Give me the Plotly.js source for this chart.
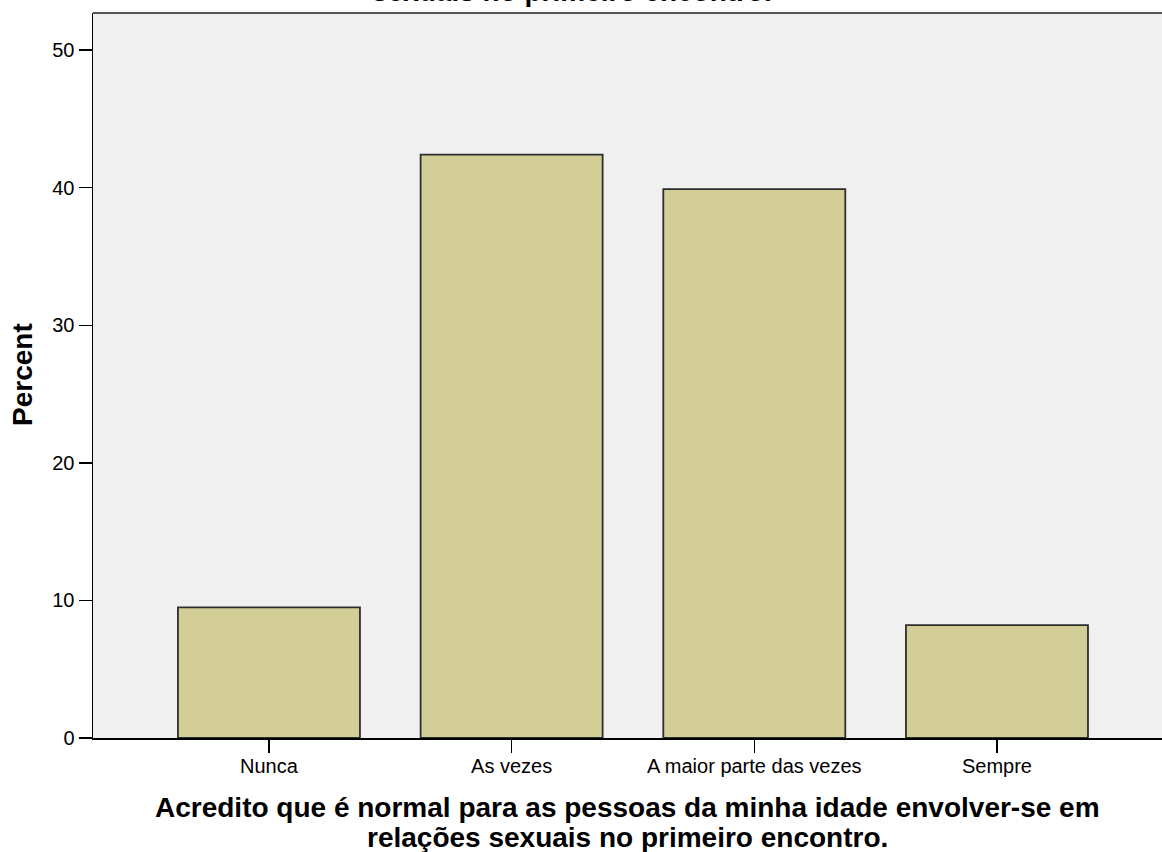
<!DOCTYPE html>
<html>
<head>
<meta charset="utf-8">
<script src="https://cdn.plot.ly/plotly-3.0.1.min.js"></script>
<style>html,body{margin:0;padding:0;background:#fff;}#chart{width:1162px;height:852px;}</style>
</head>
<body>
<div id="chart"></div>
<script>
const categories = ["Nunca", "As vezes", "A maior parte das vezes", "Sempre"];
const percentValues = [9.5, 42.4, 39.9, 8.2];
const yTickValues = [0, 10, 20, 30, 40, 50];
const xTitleLines = ["Acredito que é normal para as pessoas da minha idade envolver-se em", "relações sexuais no primeiro encontro."];
const topTitleTail = "sexuais no primeiro encontro.";
const yTitle = "Percent";

const W = 1162, H = 852;
const M = {l: 93, r: 0, t: 13, b: 114};
const plotW = W - M.l - M.r, plotH = H - M.t - M.b;
const px = x => (x - M.l) / plotW;
const py = y => (H - M.b - y) / plotH;
const FONT = '"Liberation Sans", Arial, sans-serif';

const trace = {
  type: 'bar',
  x: categories,
  y: percentValues,
  width: 0.75,
  marker: {color: '#D3CE97', line: {color: '#2e2e2e', width: 1.8}},
  hoverinfo: 'x+y'
};

const layout = {
  width: W, height: H,
  margin: M,
  paper_bgcolor: '#ffffff',
  plot_bgcolor: '#F0F0F0',
  showlegend: false,
  font: {family: FONT, color: '#000', size: 20},
  xaxis: {
    type: 'category',
    range: [-0.725, 3.68],
    showgrid: false, zeroline: false,
    showline: true, linecolor: '#000', linewidth: 1.5,
    ticks: 'outside', ticklen: 13, tickwidth: 1.5, tickcolor: '#000',
    ticklabelstandoff: -4,
    tickfont: {family: FONT, size: 20, color: '#000'},
    fixedrange: true
  },
  yaxis: {
    range: [0, 52.7],
    tickvals: yTickValues,
    showgrid: false, zeroline: false,
    showline: true, linecolor: '#000', linewidth: 1.5,
    ticks: 'outside', ticklen: 13, tickwidth: 1.5, tickcolor: '#000',
    tickfont: {family: FONT, size: 20, color: '#000'},
    fixedrange: true
  },
  shapes: [
    {type: 'line', xref: 'paper', yref: 'paper', x0: 0, x1: 1, y0: 1, y1: 1,
     line: {color: '#555555', width: 2}}
  ],
  annotations: [
    {text: '<b>' + xTitleLines[0] + '</b>', xref: 'paper', yref: 'paper',
     x: px(627), y: py(807), xanchor: 'center', yanchor: 'middle', showarrow: false,
     font: {family: FONT, size: 28, color: '#000'}},
    {text: '<b>' + xTitleLines[1] + '</b>', xref: 'paper', yref: 'paper',
     x: px(627), y: py(837), xanchor: 'center', yanchor: 'middle', showarrow: false,
     font: {family: FONT, size: 28, color: '#000'}},
    {text: '<b>' + topTitleTail + '</b>', xref: 'paper', yref: 'paper',
     x: px(572), y: py(-9), xanchor: 'center', yanchor: 'middle', showarrow: false,
     font: {family: FONT, size: 28, color: '#000'}},
    {text: '<b>' + yTitle + '</b>', xref: 'paper', yref: 'paper',
     x: px(22), y: py(375), xanchor: 'center', yanchor: 'middle', showarrow: false,
     textangle: -90, font: {family: FONT, size: 28, color: '#000'}}
  ]
};

Plotly.newPlot('chart', [trace], layout, {displayModeBar: false, staticPlot: true});
</script>
</body>
</html>
